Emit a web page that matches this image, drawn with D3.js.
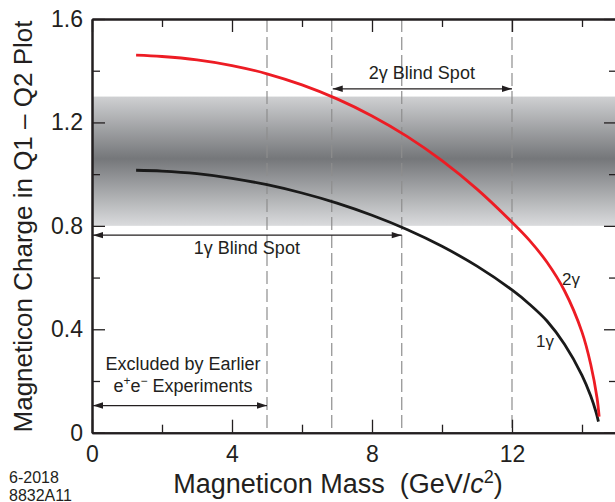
<!DOCTYPE html>
<html>
<head>
	<meta charset="utf-8">
	<script src="https://d3js.org/d3.v7.min.js"></script>
	<title></title>
	<style type="text/css">
		body { margin: 0; background: #fff; }
		#chart { width: 615px; height: 502px; }
		text { font-family: "Liberation Sans", Arial, Helvetica, sans-serif; fill: #231f20; }
		.axis path, .axis line { stroke: #231f20; }
		.curve { fill: none; stroke-width: 2.8px; }
	</style>
</head>
<body>

	<div id="chart"></div>

	<script type="text/javascript">

		// axis ticks
		var xMajor = [0, 4, 8, 12];
		var xMinor = [2, 6, 10, 14];
		var yMajor = [0, 0.4, 0.8, 1.2, 1.6];
		var yMinor = [0.2, 0.6, 1.0, 1.4];

		// 2 gamma curve (red)
		var mass2g   = [1.26, 2, 3, 4, 5, 6, 7, 8, 9, 10, 11, 12, 12.5, 13, 13.5, 14, 14.25, 14.43, 14.49];
		var charge2g = [1.46, 1.455, 1.442, 1.42, 1.388, 1.345, 1.291, 1.225, 1.146, 1.052, 0.942, 0.814, 0.744, 0.659, 0.549, 0.389, 0.264, 0.134, 0.062];

		// 1 gamma curve (black)
		var mass1g   = [1.26, 2, 3, 4, 5, 6, 7, 8, 9, 10, 11, 12, 12.5, 13, 13.5, 14, 14.25, 14.4, 14.47];
		var charge1g = [1.015, 1.012, 1.002, 0.984, 0.959, 0.927, 0.888, 0.841, 0.786, 0.721, 0.644, 0.552, 0.497, 0.432, 0.342, 0.222, 0.142, 0.08, 0.043];

		// shaded band and dashed limits
		var band = [0.8, 1.3];
		var dashedMass = [5, 6.85, 8.85, 12];

		// arrows: [from mass, to mass, charge level]
		var arrowExcluded = [0, 5, 0.105];
		var arrow1g = [0, 8.85, 0.764];
		var arrow2g = [6.85, 12, 1.33];

		var width = 615, height = 502;
		var mLeft = 92, mRight = 617, mTop = 19, mBottom = 432.7;

		var svg = d3.select("#chart")
		  .append("svg")
		  .attr("width", width)
		  .attr("height", height);

		var x = d3.scaleLinear().domain([0, 15]).range([mLeft, mRight]);
		var y = d3.scaleLinear().domain([0, 1.6]).range([mBottom, mTop]);

		// gradient for the band
		var defs = svg.append("defs");
		var grad = defs.append("linearGradient")
		  .attr("id", "bandGrad")
		  .attr("x1", 0).attr("y1", 0).attr("x2", 0).attr("y2", 1);
		grad.append("stop").attr("offset", "0%").attr("stop-color", "#cfd0d2");
		grad.append("stop").attr("offset", "48%").attr("stop-color", "#75777a");
		grad.append("stop").attr("offset", "100%").attr("stop-color", "#dadbdd");

		defs.append("marker")
		  .attr("id", "head")
		  .attr("viewBox", "0 -4 10 8")
		  .attr("refX", 10).attr("refY", 0)
		  .attr("markerUnits", "userSpaceOnUse")
		  .attr("markerWidth", 11).attr("markerHeight", 8)
		  .attr("orient", "auto-start-reverse")
		  .append("path")
		  .attr("d", "M0,-3.2L10,0L0,3.2Z")
		  .attr("fill", "#231f20");

		svg.append("rect")
		  .attr("x", x(0))
		  .attr("y", y(band[1]))
		  .attr("width", x(15) - x(0))
		  .attr("height", y(band[0]) - y(band[1]))
		  .attr("fill", "url(#bandGrad)");

		svg.selectAll(".dash")
		  .data(dashedMass)
		  .enter().append("line")
		  .attr("class", "dash")
		  .attr("x1", function(d){ return x(d) })
		  .attr("x2", function(d){ return x(d) })
		  .attr("y1", y(1.6))
		  .attr("y2", y(0))
		  .attr("stroke", "#8e8e8e")
		  .attr("stroke-width", 1.2)
		  .attr("stroke-dasharray", "13,5");

		// axes: inward ticks on all four sides
		function tidy(g) {
			g.attr("font-family", null).attr("font-size", null);
			g.selectAll("path").style("stroke-width", "2px");
			g.selectAll("line").style("stroke-width", "1.3px");
		}

		svg.append("g").attr("class", "axis")
		  .attr("transform", "translate(" + mLeft + ",0)")
		  .call(d3.axisLeft(y).tickValues(yMinor).tickSize(-8).tickSizeOuter(0).tickFormat(""))
		  .call(tidy);
		svg.append("g").attr("class", "axis")
		  .attr("transform", "translate(" + mLeft + ",0)")
		  .call(d3.axisLeft(y).tickValues(yMajor).tickSize(-13).tickSizeOuter(0).tickPadding(9).tickFormat(d3.format("~g")))
		  .call(tidy)
		  .selectAll("text").style("font-size", "23px");

		svg.append("g").attr("class", "axis")
		  .attr("transform", "translate(" + mRight + ",0)")
		  .call(d3.axisRight(y).tickValues(yMinor).tickSize(-8).tickSizeOuter(0).tickFormat(""))
		  .call(tidy);
		svg.append("g").attr("class", "axis")
		  .attr("transform", "translate(" + mRight + ",0)")
		  .call(d3.axisRight(y).tickValues(yMajor).tickSize(-13).tickSizeOuter(0).tickFormat(""))
		  .call(tidy);

		svg.append("g").attr("class", "axis")
		  .attr("transform", "translate(0," + mTop + ")")
		  .call(d3.axisTop(x).tickValues(xMinor).tickSize(-8).tickSizeOuter(0).tickFormat(""))
		  .call(tidy);
		svg.append("g").attr("class", "axis")
		  .attr("transform", "translate(0," + mTop + ")")
		  .call(d3.axisTop(x).tickValues(xMajor).tickSize(-13).tickSizeOuter(0).tickFormat(""))
		  .call(tidy);

		svg.append("g").attr("class", "axis")
		  .attr("transform", "translate(0," + mBottom + ")")
		  .call(d3.axisBottom(x).tickValues(xMinor).tickSize(-8).tickSizeOuter(0).tickFormat(""))
		  .call(tidy);
		svg.append("g").attr("class", "axis")
		  .attr("transform", "translate(0," + mBottom + ")")
		  .call(d3.axisBottom(x).tickValues(xMajor).tickSize(-13).tickSizeOuter(0).tickPadding(13).tickFormat(d3.format("~g")))
		  .call(tidy)
		  .selectAll("text").style("font-size", "23px");

		svg.selectAll(".axis text").attr("fill", "#231f20");

		// curves
		var line = d3.line()
		  .x(function(d){ return x(d[0]) })
		  .y(function(d){ return y(d[1]) })
		  .curve(d3.curveCatmullRom.alpha(0.5));

		svg.append("path")
		  .datum(d3.zip(mass1g, charge1g))
		  .attr("class", "curve")
		  .attr("d", line)
		  .attr("stroke", "#1a1a1a");

		svg.append("path")
		  .datum(d3.zip(mass2g, charge2g))
		  .attr("class", "curve")
		  .attr("d", line)
		  .attr("stroke", "#ed1c24");

		// arrows
		[arrowExcluded, arrow1g, arrow2g].forEach(function(a) {
			svg.append("line")
			  .attr("x1", x(a[0]) + 1).attr("x2", x(a[1]))
			  .attr("y1", y(a[2])).attr("y2", y(a[2]))
			  .attr("stroke", "#231f20")
			  .attr("stroke-width", 1.2)
			  .attr("marker-start", "url(#head)")
			  .attr("marker-end", "url(#head)");
		});

		function label(txt, xv, yp, size, anchor) {
			return svg.append("text")
			  .attr("x", xv).attr("y", yp)
			  .attr("text-anchor", anchor || "middle")
			  .style("font-size", size + "px")
			  .text(txt);
		}

		label("2\u03b3 Blind Spot", x((arrow2g[0] + arrow2g[1]) / 2), y(arrow2g[2]) - 10, 18);
		label("1\u03b3 Blind Spot", x((arrow1g[0] + arrow1g[1]) / 2), y(arrow1g[2]) + 18.5, 18);
		label("Excluded by Earlier", x(2.6), y(arrowExcluded[2]) - 36, 18);

		var ee = svg.append("text")
		  .attr("x", x(2.6)).attr("y", y(arrowExcluded[2]) - 13.5)
		  .attr("text-anchor", "middle")
		  .style("font-size", "18px");
		ee.append("tspan").text("e");
		ee.append("tspan").attr("dy", -7).style("font-size", "12px").text("+");
		ee.append("tspan").attr("dy", 7).text("e");
		ee.append("tspan").attr("dy", -7).style("font-size", "12px").text("\u2212");
		ee.append("tspan").attr("dy", 7).text(" Experiments");

		label("2\u03b3", 562, 285, 17, "start");
		label("1\u03b3", 536, 347, 17, "start");

		// axis titles
		svg.append("text")
		  .attr("transform", "translate(32," + ((18 + 435) / 2) + ") rotate(-90)")
		  .attr("text-anchor", "middle")
		  .style("font-size", "26px")
		  .text("Magneticon Charge in Q1 \u2013 Q2 Plot");

		var xt = svg.append("text")
		  .attr("x", 338).attr("y", 493)
		  .attr("text-anchor", "middle")
		  .style("font-size", "27px");
		xt.append("tspan").text("Magneticon Mass\u00a0\u00a0(GeV/");
		xt.append("tspan").style("font-style", "italic").text("c");
		xt.append("tspan").attr("dy", -10).style("font-size", "18px").text("2");
		xt.append("tspan").attr("dy", 10).text(")");

		label("6-2018", 9, 483, 16, "start");
		label("8832A11", 9, 501, 16, "start");

	</script>

</body>
</html>
